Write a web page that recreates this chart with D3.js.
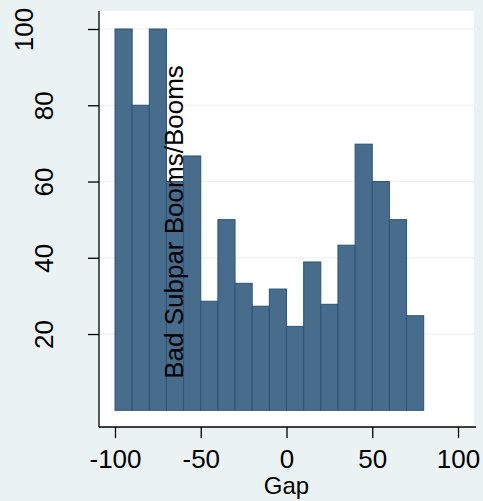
<!DOCTYPE html>
<html>
<head>
<meta charset="utf-8">
<script src="https://cdn.jsdelivr.net/npm/d3@7"></script>
<style>
  body { margin: 0; background: #eaf2f3; }
  text { font-family: "Liberation Sans", Arial, sans-serif; fill: #000; }
</style>
</head>
<body>
<figure id="chart" style="margin:0"></figure>
<script>
// histogram bins (left edge of each 10-wide bin) and bar heights
var binLeft = [-100, -90, -80, -70, -60, -50, -40, -30, -20, -10, 0, 10, 20, 30, 40, 50, 60, 70];
var share = [100, 80, 100, 60, 66.7, 28.6, 50, 33.3, 27.3, 31.8, 22, 38.9, 27.8, 43.3, 69.8, 60, 50, 24.8];
var binWidth = 10;
var xTicks = [-100, -50, 0, 50, 100];
var yTicks = [20, 40, 60, 80, 100];
var xTitle = "Gap";
var yTitle = "Bad Subpar Booms/Booms";

let dimensions = {
    width: 483,
    height: 501,
    plot: { left: 99, right: 474, top: 11, bottom: 427 }
};

var svg = d3.select("figure#chart")
    .append("svg")
    .attr("width", dimensions.width)
    .attr("height", dimensions.height);

svg.append("rect")
    .attr("width", dimensions.width)
    .attr("height", dimensions.height)
    .attr("fill", "#eaf2f3");

// white plot region
svg.append("rect")
    .attr("x", dimensions.plot.left)
    .attr("y", dimensions.plot.top)
    .attr("width", dimensions.plot.right - dimensions.plot.left)
    .attr("height", dimensions.plot.bottom - dimensions.plot.top)
    .attr("fill", "#fff");

var xScale = d3.scaleLinear()
    .domain([-100, 100])
    .range([115, 458]);

var yScale = d3.scaleLinear()
    .domain([0, 100])
    .range([410.3, 29]);

// gridlines
svg.selectAll("line.grid")
    .data(yTicks)
    .enter()
    .append("line")
    .attr("class", "grid")
    .attr("x1", dimensions.plot.left)
    .attr("x2", dimensions.plot.right)
    .attr("y1", d => yScale(d))
    .attr("y2", d => yScale(d))
    .attr("stroke", "#eaf2f3")
    .attr("stroke-width", 1.2);

// bars
svg.selectAll("rect.bar")
    .data(binLeft)
    .enter()
    .append("rect")
    .attr("class", "bar")
    .attr("x", d => xScale(d))
    .attr("width", d => xScale(d + binWidth) - xScale(d))
    .attr("y", (d, i) => yScale(share[i]))
    .attr("height", (d, i) => yScale(0) - yScale(share[i]))
    .attr("fill", "#486c8c")
    .attr("stroke", "#2a5479")
    .attr("stroke-width", 1);

// x axis (plain hyphen for negatives, like the original)
var xAxis = svg.append("g")
    .attr("transform", `translate(0, ${dimensions.plot.bottom})`)
    .call(d3.axisBottom(xScale).tickValues(xTicks).tickFormat(d => String(d)).tickSize(11).tickSizeOuter(0));

xAxis.select(".domain")
    .attr("d", `M${dimensions.plot.left},0H${dimensions.plot.right + 2}`)
    .attr("stroke", "#000")
    .attr("stroke-width", 1.3);
xAxis.selectAll(".tick line").attr("stroke", "#000").attr("stroke-width", 1.3);
xAxis.selectAll(".tick text")
    .attr("y", 41)
    .attr("dy", null)
    .attr("font-size", 26)
    .attr("font-family", "Liberation Sans, Arial, sans-serif");

// y axis
var yAxis = svg.append("g")
    .attr("transform", `translate(${dimensions.plot.left}, 0)`)
    .call(d3.axisLeft(yScale).tickValues(yTicks).tickSize(11).tickSizeOuter(0));

yAxis.select(".domain")
    .attr("d", `M0,${dimensions.plot.top}V${dimensions.plot.bottom}`)
    .attr("stroke", "#000")
    .attr("stroke-width", 1.3);
yAxis.selectAll(".tick line").attr("stroke", "#000").attr("stroke-width", 1.3);
yAxis.selectAll(".tick text")
    .attr("transform", "rotate(-90)")
    .attr("text-anchor", "middle")
    .attr("x", 0)
    .attr("dy", null)
    .attr("y", d => String(d).length > 2 ? -66 : -46)
    .attr("font-size", 26)
    .attr("font-family", "Liberation Sans, Arial, sans-serif");

// titles
svg.append("text")
    .attr("x", xScale(0))
    .attr("y", 494)
    .attr("text-anchor", "middle")
    .attr("font-size", 24)
    .text(xTitle);

svg.append("text")
    .attr("transform", `translate(183, 222) rotate(-90)`)
    .attr("text-anchor", "middle")
    .attr("font-size", 26)
    .text(yTitle);
</script>
</body>
</html>
